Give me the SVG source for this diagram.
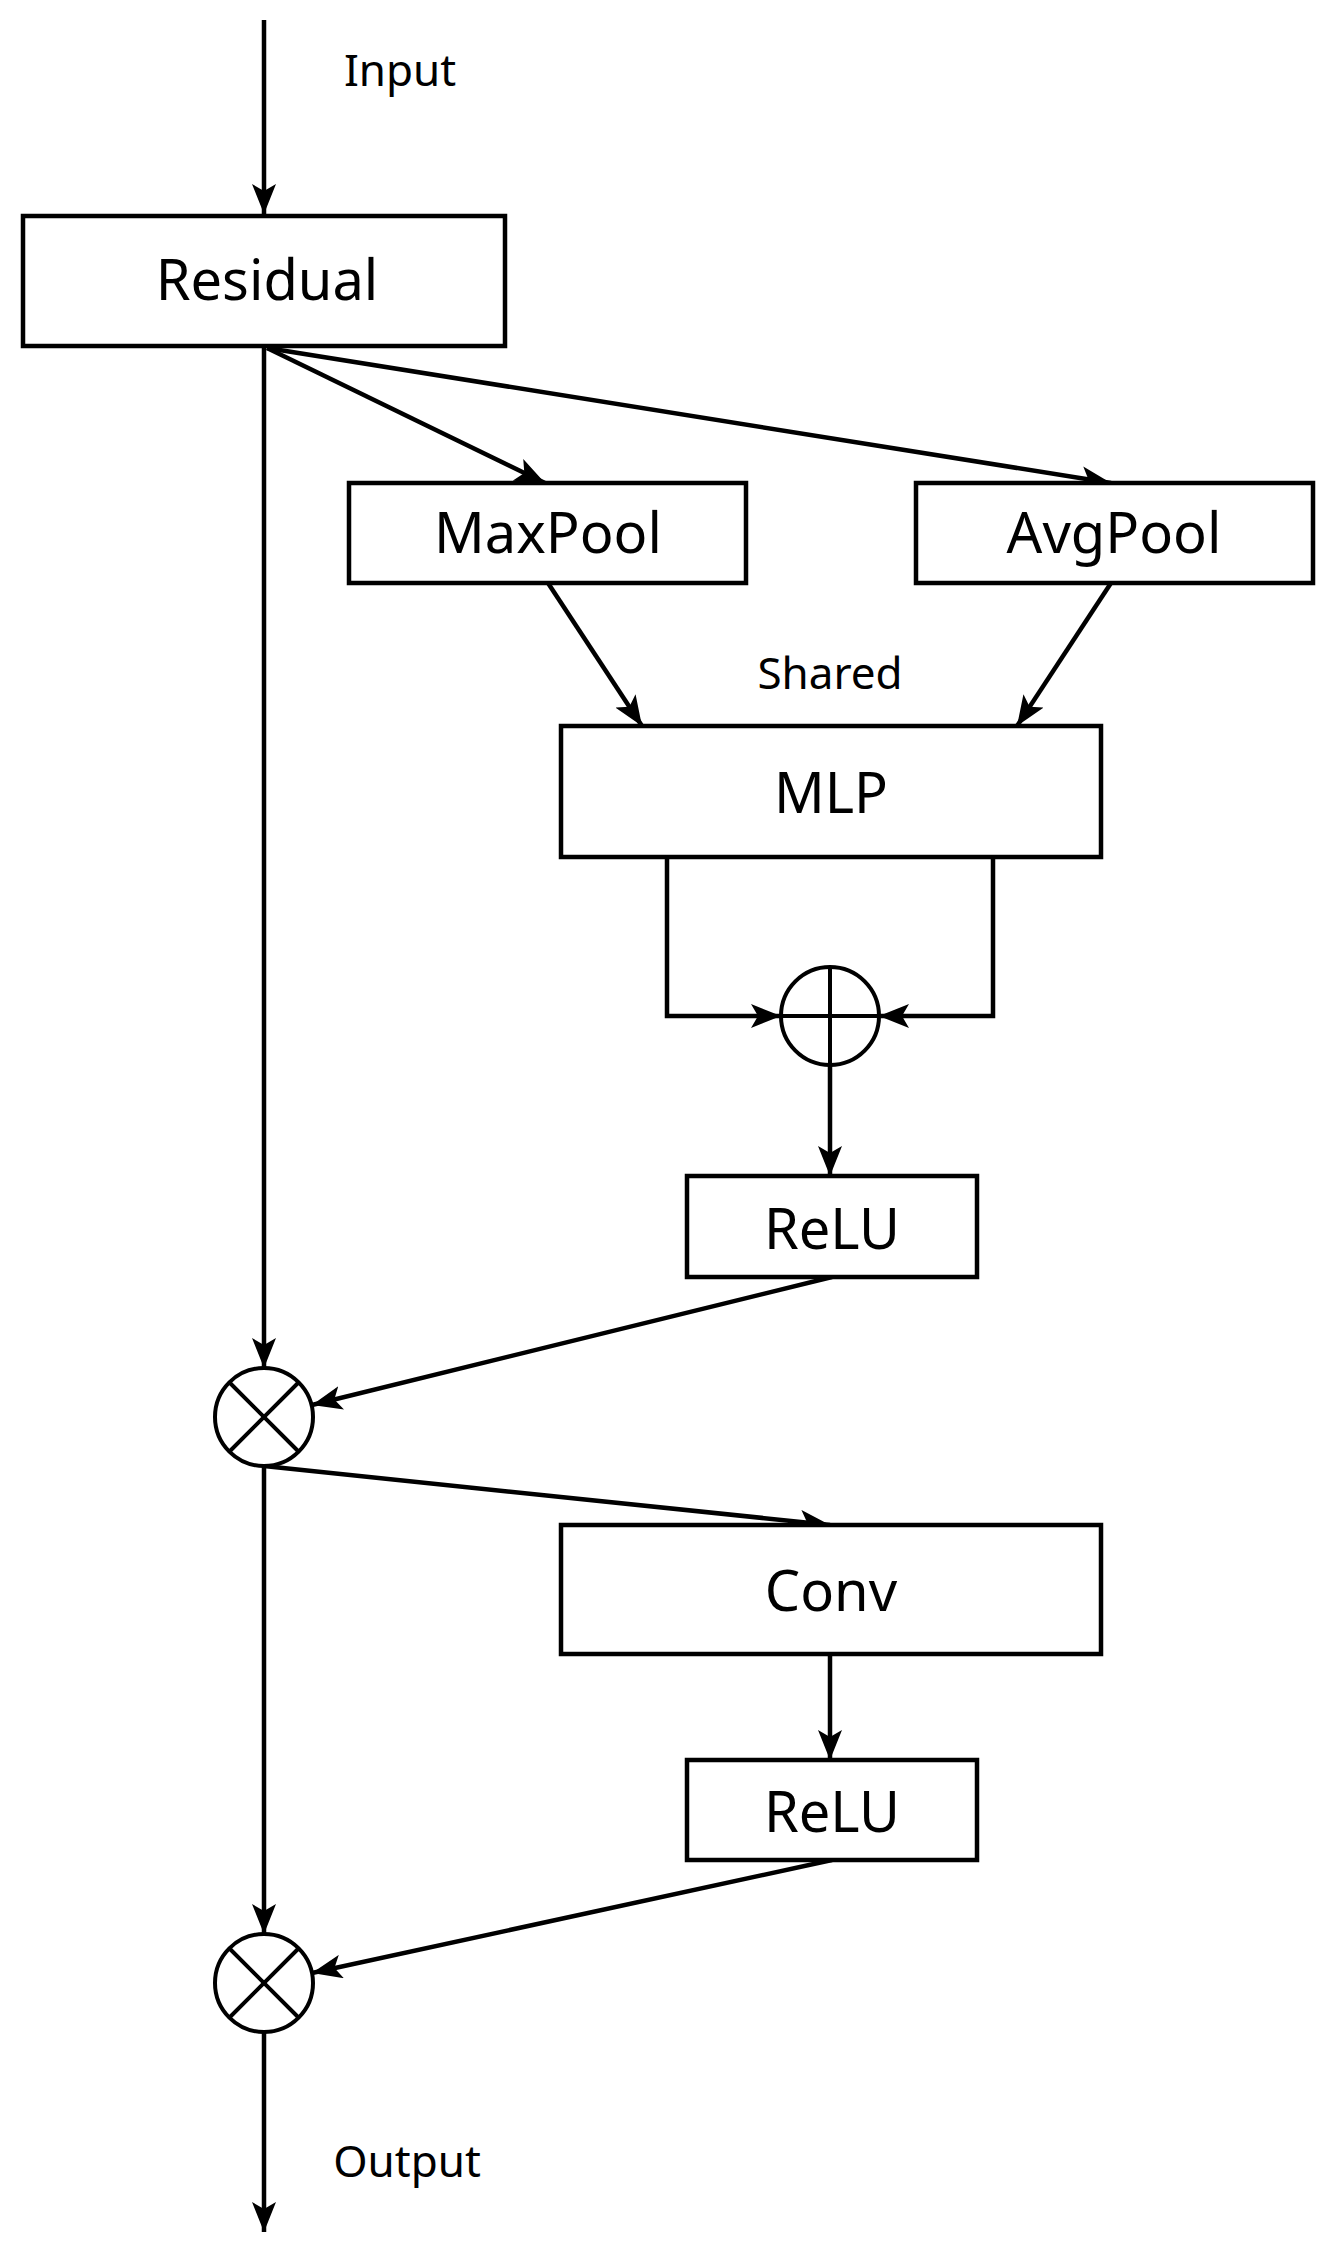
<svg xmlns="http://www.w3.org/2000/svg" width="1342" height="2266" viewBox="0 0 1342 2266">
<style>
.b{fill:#fff;stroke:#000;stroke-width:4.5}
.t{font-family:"Noto Sans","Open Sans",sans-serif;font-size:56px;text-anchor:middle;dominant-baseline:central;fill:#000}
.s{font-family:"Noto Sans","Open Sans",sans-serif;font-size:44px;text-anchor:middle;dominant-baseline:central;fill:#000}
.c line,.c path{stroke:#000;stroke-width:4.5;fill:none}
.o{fill:#fff;stroke:#000;stroke-width:4}
</style>
<defs>
<marker id="a" viewBox="0 0 30 24" refX="30" refY="12" markerWidth="30" markerHeight="24" markerUnits="userSpaceOnUse" orient="auto">
<path d="M0,0 L30,12 L0,24 L7,12 Z" fill="#000"/>
</marker>
</defs>
<g class="c" id="connectors">
<line x1="264" y1="20" x2="264" y2="214" marker-end="url(#a)"/>
<line x1="267" y1="348" x2="545" y2="483" marker-end="url(#a)"/>
<line x1="267" y1="348" x2="1111" y2="483" marker-end="url(#a)"/>
<line x1="548" y1="583" x2="642" y2="726" marker-end="url(#a)"/>
<line x1="1111" y1="583" x2="1017" y2="726" marker-end="url(#a)"/>
<path d="M667,857 V1016 H781" marker-end="url(#a)"/>
<path d="M993,857 V1016 H879" marker-end="url(#a)"/>
<line x1="830" y1="1065" x2="830" y2="1176" marker-end="url(#a)"/>
<line x1="264" y1="346" x2="264" y2="1368" marker-end="url(#a)"/>
<line x1="832" y1="1277" x2="312" y2="1405" marker-end="url(#a)"/>
<line x1="264" y1="1466" x2="830" y2="1525" marker-end="url(#a)"/>
<line x1="830" y1="1654" x2="830" y2="1760" marker-end="url(#a)"/>
<line x1="264" y1="1466" x2="264" y2="1934" marker-end="url(#a)"/>
<line x1="832" y1="1860" x2="312" y2="1973" marker-end="url(#a)"/>
<line x1="264" y1="2032" x2="264" y2="2232" marker-end="url(#a)"/>
</g>
<text class="s" x="400" y="69">Input</text>
<text class="s" x="830" y="672">Shared</text>
<text class="s" x="407" y="2160">Output</text>
<g id="residual"><rect class="b" x="23" y="216" width="482" height="130"/><text class="t" x="267" y="278">Residual</text></g>
<g id="maxpool"><rect class="b" x="349" y="483" width="397" height="100"/><text class="t" x="548" y="531">MaxPool</text></g>
<g id="avgpool"><rect class="b" x="916" y="483" width="397" height="100"/><text class="t" x="1114" y="531">AvgPool</text></g>
<g id="mlp"><rect class="b" x="561" y="726" width="540" height="131"/><text class="t" x="831" y="791">MLP</text></g>
<g id="add"><circle class="o" cx="830" cy="1016" r="49"/><path d="M830,967 V1065 M781,1016 H879" stroke="#000" stroke-width="4"/></g>
<g id="relu1"><rect class="b" x="687" y="1176" width="290" height="101"/><text class="t" x="832" y="1227">ReLU</text></g>
<g id="mul1"><circle class="o" cx="264" cy="1417" r="49"/><path d="M229,1382 L299,1452 M299,1382 L229,1452" stroke="#000" stroke-width="4"/></g>
<g id="conv"><rect class="b" x="561" y="1525" width="540" height="129"/><text class="t" x="831" y="1589">Conv</text></g>
<g id="relu2"><rect class="b" x="687" y="1760" width="290" height="100"/><text class="t" x="832" y="1810">ReLU</text></g>
<g id="mul2"><circle class="o" cx="264" cy="1983" r="49"/><path d="M229,1948 L299,2018 M299,1948 L229,2018" stroke="#000" stroke-width="4"/></g>
</svg>
